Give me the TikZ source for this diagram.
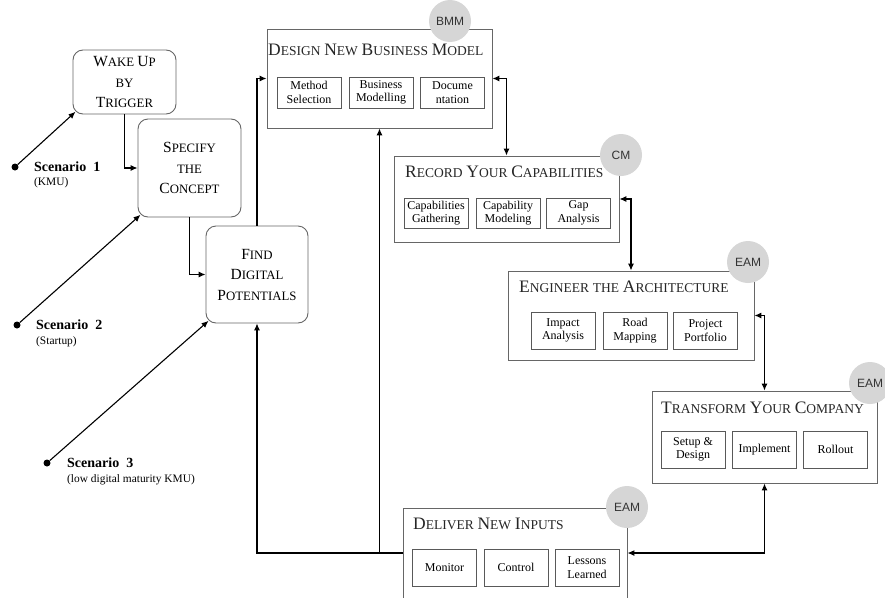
\documentclass[tikz,border=0pt]{standalone}
\usepackage{fontspec}
\setmainfont{Liberation Serif}
\newfontfamily\tagfont{Liberation Sans}
\usetikzlibrary{arrows.meta}

% faked small capitals: first letter, then the rest
\newcommand{\stagesc}[2]{{\fontsize{17.5}{22}\selectfont #1}{\fontsize{13.5}{22}\selectfont #2}}
\newcommand{\phasesc}[2]{{\fontsize{15.5}{20.5}\selectfont #1}{\fontsize{12.8}{20.5}\selectfont #2}}

\tikzset{
  phase/.style={draw=black!60, line width=0.9pt, rounded corners=10pt, align=center, inner sep=0pt,
    font=\fontsize{12.5}{20.5}\selectfont},
  stage/.style={draw=black!60, line width=0.9pt, inner sep=0pt},
  stagetitle/.style={anchor=west, inner sep=0pt, text=black!85, font=\fontsize{15}{22}\selectfont},
  task/.style={draw=black!65, line width=0.9pt, minimum width=64pt, align=center, inner sep=0pt,
    font=\fontsize{12}{13.5}\selectfont},
  tag/.style={circle, fill=black!16, minimum size=42pt, inner sep=0pt,
    font=\tagfont\fontsize{12}{14}\selectfont, text=black!80},
  startdot/.style={circle, fill=black, minimum size=7pt, inner sep=0pt},
  flow/.style={-{Latex[length=7pt,width=6pt]}, line width=1.1pt},
  twoway/.style={{Latex[length=7pt,width=6pt]}-{Latex[length=7pt,width=6pt]}, line width=1.1pt},
  entry/.style={flow, shorten >=-4pt}
}

\begin{document}
\begin{tikzpicture}[x=1pt,y=-1pt]
    \providecommand{\scenfontsize}{\fontsize{14}{16}\selectfont}
    \providecommand{\notefontsize}{\fontsize{11.4}{13}\selectfont}
    \useasboundingbox (0,0) rectangle (885,597);
    \clip (0,0) rectangle (885,597);

    % left hand phases
    \node[phase, minimum width=103pt, minimum height=64pt] (wake) at (124.5,82)
        {\phasesc{W}{AKE} \phasesc{U}{P}\\\phasesc{}{BY}\\\phasesc{T}{RIGGER}};
    \node[phase, minimum width=103pt, minimum height=98pt] (specify) at (189.5,168)
        {\phasesc{S}{PECIFY}\\\phasesc{}{THE}\\\phasesc{C}{ONCEPT}};
    \node[phase, minimum width=102pt, minimum height=97pt] (find) at (257,274.5)
        {\phasesc{F}{IND}\\\phasesc{D}{IGITAL}\\\phasesc{P}{OTENTIALS}};

    % scenarios
    \node[startdot] (s1) at (15,167) {};
    \node[startdot] (s2) at (17,325) {};
    \node[startdot] (s3) at (47,463) {};
    \node[anchor=west, inner sep=0pt, font=\scenfontsize\bfseries] (s1name) at (34,167) {Scenario\ \ 1};
    \node[anchor=west, inner sep=0pt, font=\notefontsize] (s1note) at (34,183) {(KMU)};
    \node[anchor=west, inner sep=0pt, font=\scenfontsize\bfseries] (s2name) at (36,325) {Scenario\ \ 2};
    \node[anchor=west, inner sep=0pt, font=\notefontsize] (s2note) at (36,342) {(Startup)};
    \node[anchor=west, inner sep=0pt, font=\scenfontsize\bfseries] (s3name) at (67,463) {Scenario\ \ 3};
    \node[anchor=west, inner sep=0pt, font=\notefontsize] (s3note) at (67,480) {(low digital maturity KMU)};

    % stages
    \node[stage, minimum width=225pt, minimum height=99pt] (design) at (379.5,78.5) {};
    \node[stagetitle] (designtitle) at (268,50)
        {\stagesc{D}{ESIGN} \stagesc{N}{EW} \stagesc{B}{USINESS} \stagesc{M}{ODEL}};
    \node[task, minimum height=31pt] (method) at (309,92.5) {Method\\Selection};
    \node[task, minimum height=31pt] (busmod) at (381,92.5) {Business\\Modelling};
    \node[task, minimum height=31pt] (docu) at (452.5,92.5) {Docume\\ntation};

    \node[stage, minimum width=225pt, minimum height=86pt] (record) at (506.5,199) {};
    \node[stagetitle] (recordtitle) at (405,172)
        {\stagesc{R}{ECORD} \stagesc{Y}{OUR} \stagesc{C}{APABILITIES}};
    \node[task, minimum height=30pt] (gather) at (436,213) {Capabilities\\Gathering};
    \node[task, minimum height=30pt] (capmod) at (508,213) {Capability\\Modeling};
    \node[task, minimum height=30pt] (gap) at (578.5,213) {Gap\\Analysis};

    \node[stage, minimum width=246pt, minimum height=89pt] (engineer) at (631,315.5) {};
    \node[stagetitle] (engineertitle) at (519,287)
        {\stagesc{E}{NGINEER} \stagesc{}{THE} \stagesc{A}{RCHITECTURE}};
    \node[task, minimum height=37pt] (impact) at (563,330.5) {Impact\\Analysis};
    \node[task, minimum height=37pt] (roadmap) at (635,330.5) {Road\\Mapping};
    \node[task, minimum height=37pt] (portfolio) at (705.5,330.5) {Project\\Portfolio};

    \node[stage, minimum width=225pt, minimum height=92pt] (transform) at (764.5,437) {};
    \node[stagetitle] (transformtitle) at (661,408)
        {\stagesc{T}{RANSFORM} \stagesc{Y}{OUR} \stagesc{C}{OMPANY}};
    \node[task, minimum height=37pt] (setup) at (693,449.5) {Setup \&\\Design};
    \node[task, minimum height=37pt] (implement) at (764.5,449.5) {Implement};
    \node[task, minimum height=37pt] (rollout) at (835.5,449.5) {Rollout};

    \node[stage, minimum width=224pt, minimum height=90pt] (deliver) at (515,553) {};
    \node[stagetitle] (delivertitle) at (413,524)
        {\stagesc{D}{ELIVER} \stagesc{N}{EW} \stagesc{I}{NPUTS}};
    \node[task, minimum height=37pt] (monitor) at (444.5,567.5) {Monitor};
    \node[task, minimum height=37pt] (control) at (516,567.5) {Control};
    \node[task, minimum height=37pt] (lessons) at (587,567.5) {Lessons\\Learned};

    % method tags
    \node[tag] (bmm) at (450,21) {BMM};
    \node[tag] (cm) at (621,155) {CM};
    \node[tag] (eam1) at (748,262) {EAM};
    \node[tag] (eam2) at (870,383) {EAM};
    \node[tag] (eam3) at (627,507) {EAM};

    % connectors
    \draw[entry] (s1) -- (wake.south west);
    \draw[entry] (s2) -- (specify.south west);
    \draw[entry] (s3) -- (find.south west);
    \draw[flow] (wake.south) |- (specify.west);
    \draw[flow] (specify.south) |- (find.west);
    \draw[flow] (find.north) |- (design.west);
    \draw[twoway] (design.east) -| (record.north);
    \draw[twoway] (record.east) -| (engineer.north);
    \draw[twoway] (engineer.east) -| (transform.north);
    \draw[twoway] (transform.south) |- (deliver.east);
    \coordinate (split) at (deliver.west -| design.south);
    \draw[flow] (deliver.west) -| (find.south);
    \draw[flow] (split) -- (design.south);
\end{tikzpicture}
\end{document}
